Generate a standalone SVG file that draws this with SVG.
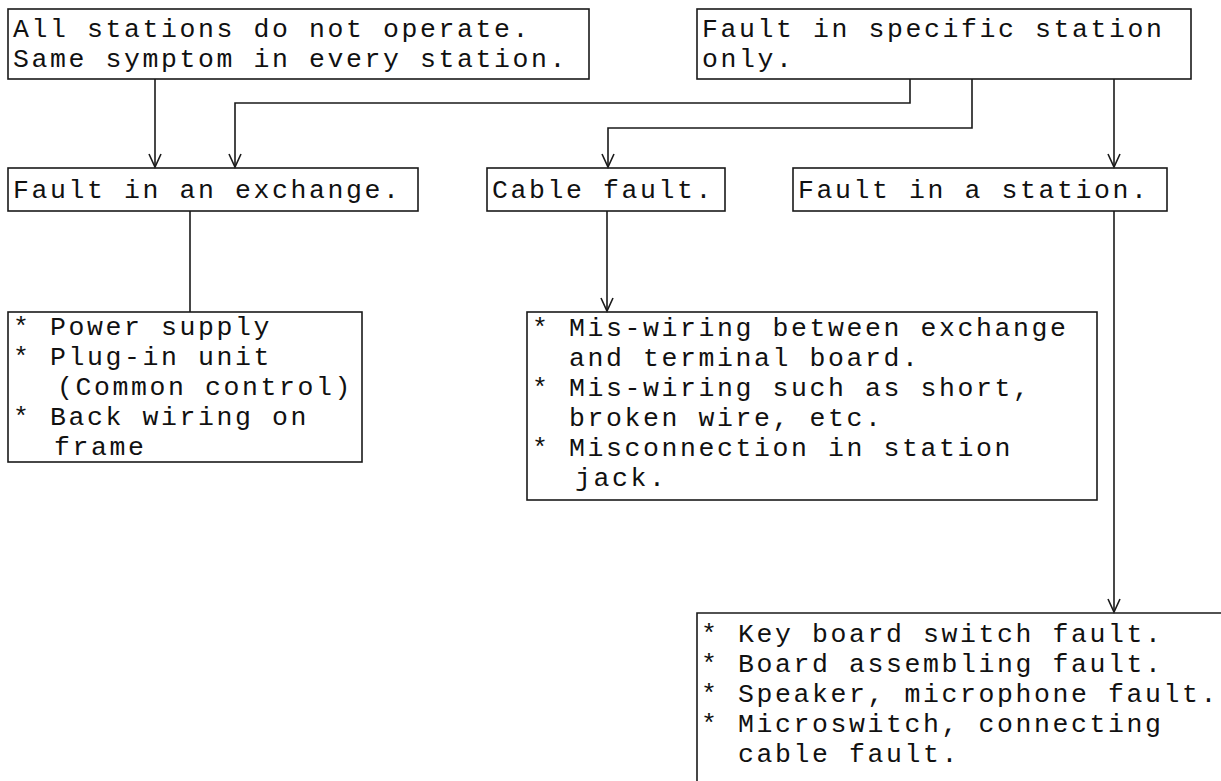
<svg xmlns="http://www.w3.org/2000/svg" width="1221" height="781" viewBox="0 0 1221 781">
<defs>
<style>
.box{fill:none;stroke:#1a1a1a;stroke-width:1.6}
.ln{fill:none;stroke:#1a1a1a;stroke-width:1.6}
.t{font-family:"Liberation Mono","DejaVu Sans Mono",monospace;font-size:26.5px;letter-spacing:2.6px;fill:#111;white-space:pre}
</style>
<marker id="arr" markerUnits="userSpaceOnUse" markerWidth="20" markerHeight="20" refX="0" refY="0" orient="auto" overflow="visible">
<path d="M-13,-6 L0,0 L-13,6" fill="none" stroke="#1a1a1a" stroke-width="1.6"/>
</marker>
</defs>
<rect width="1221" height="781" fill="#fff"/>
<g id="connectors">
<path class="ln" d="M155,79 V167" marker-end="url(#arr)"/>
<path class="ln" d="M910,79 V103 H235 V167" marker-end="url(#arr)"/>
<path class="ln" d="M972,79 V128 H608 V167" marker-end="url(#arr)"/>
<path class="ln" d="M1114,79 V167" marker-end="url(#arr)"/>
<path class="ln" d="M190,211 V312"/>
<path class="ln" d="M607,211 V311" marker-end="url(#arr)"/>
<path class="ln" d="M1114,211 V612" marker-end="url(#arr)"/>
</g>
<g id="all-stations">
<rect class="box" x="8" y="9" width="581" height="70"/>
<text class="t" x="13" y="37">All stations do not operate.</text>
<text class="t" x="13" y="67">Same symptom in every station.</text>
</g>
<g id="specific-station">
<rect class="box" x="697" y="9" width="494" height="70"/>
<text class="t" x="702" y="37">Fault in specific station</text>
<text class="t" x="702" y="67">only.</text>
</g>
<g id="exchange-fault">
<rect class="box" x="8" y="168" width="410" height="43"/>
<text class="t" x="13" y="198">Fault in an exchange.</text>
</g>
<g id="cable-fault">
<rect class="box" x="487" y="168" width="238" height="43"/>
<text class="t" x="492" y="198">Cable fault.</text>
</g>
<g id="station-fault">
<rect class="box" x="793" y="168" width="374" height="43"/>
<text class="t" x="798" y="198">Fault in a station.</text>
</g>
<g id="exchange-causes">
<rect class="box" x="8" y="312" width="354" height="150"/>
<text class="t" x="13" y="335">* Power supply</text>
<text class="t" x="13" y="365">* Plug-in unit</text>
<text class="t" x="57" y="395">(Common control)</text>
<text class="t" x="13" y="425">* Back wiring on</text>
<text class="t" x="54" y="455">frame</text>
</g>
<g id="cable-causes">
<rect class="box" x="527" y="312" width="570" height="188"/>
<text class="t" x="532" y="336">* Mis-wiring between exchange</text>
<text class="t" x="569" y="366">and terminal board.</text>
<text class="t" x="532" y="396">* Mis-wiring such as short,</text>
<text class="t" x="569" y="426">broken wire, etc.</text>
<text class="t" x="532" y="456">* Misconnection in station</text>
<text class="t" x="575" y="486">jack.</text>
</g>
<g id="station-causes">
<path class="box" d="M1221,613 H697 V781"/>
<text class="t" x="701" y="642">* Key board switch fault.</text>
<text class="t" x="701" y="672">* Board assembling fault.</text>
<text class="t" x="701" y="702">* Speaker, microphone fault.</text>
<text class="t" x="701" y="732">* Microswitch, connecting</text>
<text class="t" x="738" y="762">cable fault.</text>
</g>
</svg>
